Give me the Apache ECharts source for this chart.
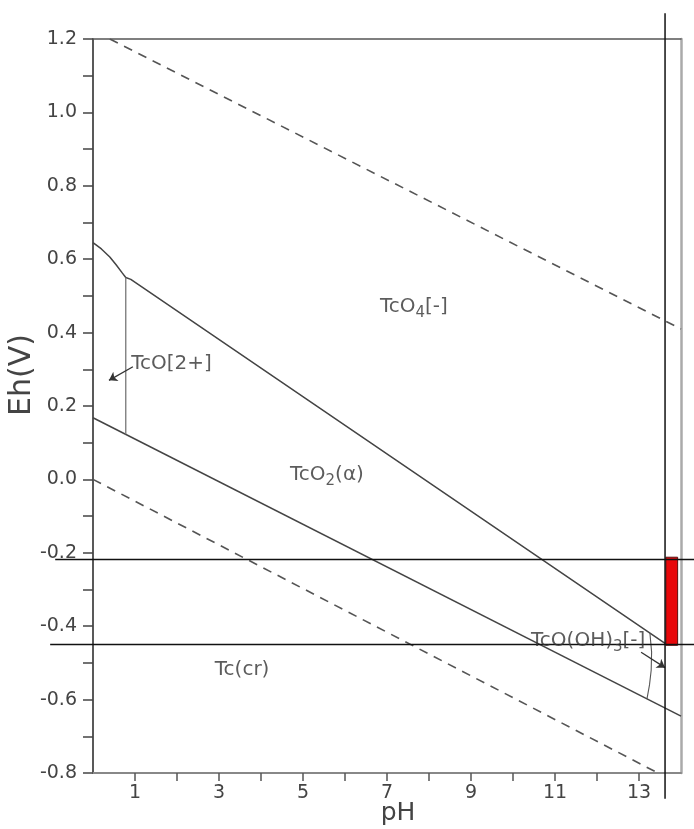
<!DOCTYPE html>
<html>
<head>
<meta charset="utf-8">
<script src="https://cdn.jsdelivr.net/npm/echarts@6/dist/echarts.min.js"></script>
<style>html,body{margin:0;padding:0;background:#fff}#c{width:694px;height:829px}</style>
</head>
<body>
<div id="c"></div>
<script>
// ---- data (pH, Eh) ----
var xTicks = [1, 3, 5, 7, 9, 11, 13];
var yTicks = [-0.8, -0.6, -0.4, -0.2, 0.0, 0.2, 0.4, 0.6, 0.8, 1.0, 1.2];
// TcO4- / TcO2 and TcO2+ upper boundary
var upperPH = [0, 0.2, 0.4, 0.55, 0.7, 0.78, 0.9, 13.62];
var upperEh = [0.645, 0.628, 0.606, 0.585, 0.562, 0.55, 0.545, -0.447];
// TcO2 / Tc(cr) boundary
var lowerPH = [0, 14];
var lowerEh = [0.168, -0.645];
// TcO[2+] / TcO2 boundary
var tcoPH = [0.78, 0.78];
var tcoEh = [0.55, 0.123];
// TcO(OH)3[-] boundary
var ohPH = [13.26, 13.3, 13.29, 13.25, 13.19];
var ohEh = [-0.419, -0.47, -0.52, -0.56, -0.598];
// water stability lines (dashed)
var waterUpPH = [0.4, 14];
var waterUpEh = [1.2, 0.41];
var waterLoPH = [0, 13.45];
var waterLoEh = [0.0, -0.8];
// reference lines (black), extending past the frame
var hLine1PH = [-0.9, 14.4];
var hLine1Eh = [-0.218, -0.218];
var hLine2PH = [-1.02, 14.4];
var hLine2Eh = [-0.45, -0.45];
var vLinePH = [13.62, 13.62];
var vLineEh = [1.27, -0.87];
// red range bar: [pH0, pH1, EhTop, EhBottom]
var redBar = [13.64, 13.92, -0.212, -0.452];
// region labels
var labelNames = ['TcO{s|4}[-]', 'TcO[2+]', 'TcO{s|2}(\u03b1)', 'Tc(cr)', 'TcO(OH){s|3}[-]'];
var labelPH = [7.64, 1.87, 5.57, 3.55, 11.79];
var labelEh = [0.47, 0.315, 0.012, -0.52, -0.44];
// arrows [[fromPH, fromEh],[toPH, toEh]]
var arrow1 = [[0.95, 0.307], [0.38, 0.27]];
var arrow2 = [[13.05, -0.471], [13.62, -0.513]];

function zipXY(xs, ys) { return xs.map(function (x, i) { return [x, ys[i]]; }); }

var chart = echarts.init(document.getElementById('c'), null, {renderer: 'canvas'});
var FONT = 'DejaVu Sans';

function lineSeries(xs, ys, color, width, type) {
  return {
    type: 'line', data: zipXY(xs, ys), showSymbol: false, symbol: 'none',
    silent: true, animation: false,
    lineStyle: {color: color, width: width, type: type || 'solid'}, z: 3
  };
}

// free line (not clipped to the frame), drawn through the axes' scales
function freeLine(xs, ys) {
  return {
    type: 'custom', silent: true, animation: false, z: 6, clip: false,
    data: [[0]],
    renderItem: function (params, api) {
      var pts = xs.map(function (x, i) { return api.coord([x, ys[i]]); });
      return {
        type: 'polyline', shape: {points: pts},
        style: {stroke: '#111', lineWidth: 1.5, fill: null}
      };
    }
  };
}

var option = {
  animation: false,
  backgroundColor: '#fff',
  grid: {left: 93, right: 13, top: 39, bottom: 56, containLabel: false, outerBoundsMode: 'none'},
  xAxis: [{
    type: 'value', min: 0, max: 14, interval: 1, position: 'bottom',
    name: 'pH', nameLocation: 'middle', nameGap: 28, nameMoveOverlap: false,
    nameTextStyle: {fontFamily: FONT, fontSize: 25, color: '#444', padding: [0, 0, 0, 22]},
    axisLine: {show: true, onZero: false, lineStyle: {color: '#888', width: 2}},
    axisTick: {show: true, length: 8, inside: false, lineStyle: {color: '#555', width: 1.5}},
    axisLabel: {
      margin: 11, fontFamily: FONT, fontSize: 19, color: '#444',
      showMaxLabel: false, showMinLabel: false,
      formatter: function (v) { var r = Math.round(v); return xTicks.indexOf(r) >= 0 ? String(r) : ''; }
    },
    splitLine: {show: false}
  }, {
    type: 'value', min: 0, max: 14, position: 'top',
    axisLine: {show: true, onZero: false, lineStyle: {color: '#555', width: 1.5}},
    axisTick: {show: false}, axisLabel: {show: false}, splitLine: {show: false}
  }],
  yAxis: [{
    type: 'value', min: -0.8, max: 1.2, interval: 0.1, position: 'left',
    name: 'Eh(V)', nameLocation: 'middle', nameGap: 56, nameRotate: 90, nameMoveOverlap: false,
    nameTextStyle: {fontFamily: FONT, fontSize: 30, color: '#444', padding: [0, 0, 0, 62]},
    axisLine: {show: true, onZero: false, lineStyle: {color: '#222', width: 1.5}},
    axisTick: {show: true, length: 10, lineStyle: {color: '#444', width: 1.5}},
    axisLabel: {
      margin: 16, fontFamily: FONT, fontSize: 19, color: '#444',
      formatter: function (v) {
        var t = Math.round(v * 10);
        if (Math.abs(t) % 2 !== 0) return '';
        var val = t / 10;
        for (var i = 0; i < yTicks.length; i++) {
          if (Math.abs(yTicks[i] - val) < 1e-6) return yTicks[i].toFixed(1);
        }
        return '';
      }
    },
    splitLine: {show: false}
  }, {
    type: 'value', min: -0.8, max: 1.2, position: 'right',
    axisLine: {show: true, onZero: false, lineStyle: {color: '#aaa', width: 2.5}},
    axisTick: {show: false}, axisLabel: {show: false}, splitLine: {show: false}
  }],
  series: [
    lineSeries(waterUpPH, waterUpEh, '#555', 1.6, [9, 7]),
    lineSeries(waterLoPH, waterLoEh, '#555', 1.6, [9, 7]),
    lineSeries(upperPH, upperEh, '#444', 1.5, 'solid'),
    lineSeries(lowerPH, lowerEh, '#444', 1.5, 'solid'),
    lineSeries(tcoPH, tcoEh, '#777', 1.3, 'solid'),
    lineSeries(ohPH, ohEh, '#555', 1.1, 'solid'),
    {
      type: 'custom', silent: true, animation: false, z: 4,
      data: [redBar],
      renderItem: function (params, api) {
        var p0 = api.coord([api.value(0), api.value(2)]);
        var p1 = api.coord([api.value(1), api.value(3)]);
        return {
          type: 'rect',
          shape: {x: p0[0], y: p0[1], width: p1[0] - p0[0], height: p1[1] - p0[1]},
          style: {fill: '#e8080b', stroke: '#5a1010', lineWidth: 1}
        };
      }
    },
    freeLine(hLine1PH, hLine1Eh),
    freeLine(hLine2PH, hLine2Eh),
    freeLine(vLinePH, vLineEh),
    {
      type: 'lines', coordinateSystem: 'cartesian2d', silent: true, animation: false, z: 5,
      symbol: ['none', 'arrow'], symbolSize: 8,
      lineStyle: {color: '#333', width: 1.3, opacity: 1},
      data: [{coords: arrow1}, {coords: arrow2}]
    },
    {
      type: 'scatter', silent: true, animation: false, z: 7, symbolSize: 0,
      data: labelPH.map(function (x, i) { return [x, labelEh[i], labelNames[i]]; }),
      label: {
        show: true, position: 'inside',
        formatter: function (p) { return p.data[2]; },
        fontFamily: FONT, fontSize: 20, color: '#333',
        rich: {s: {fontFamily: FONT, fontSize: 15, color: '#333', padding: [12, 0, 0, 0]}}
      }
    }
  ]
};
chart.setOption(option);
</script>
</body>
</html>
